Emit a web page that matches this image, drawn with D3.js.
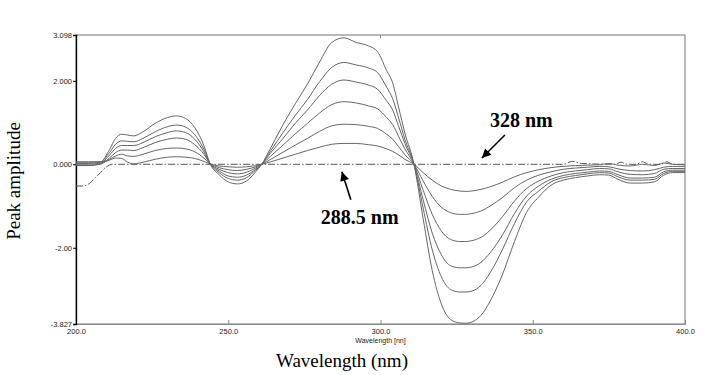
<!DOCTYPE html>
<html>
<head>
<meta charset="utf-8">
<script src="https://cdn.jsdelivr.net/npm/d3@7"></script>
<style>
  body { margin: 0; background: #fff; }
  svg { display: block; }
  .tick text { font-family: "Liberation Sans", Arial, sans-serif; font-size: 7.5px; fill: #222; }
</style>
</head>
<body>
<div class="chart"></div>
<script>
'use strict'

let width = 716;
let height = 375;
const margin = {left: 76, right: 31, top: 35, bottom: 51};

/* wavelengths (nm) shared by the six spectra */
const wavelengths = [200, 204, 208, 211, 213, 215, 217, 219, 222, 226, 230, 233, 236, 239, 242, 244,
    247, 250, 253, 256, 259, 261, 264, 268, 272, 276, 280, 284, 288, 292, 296, 299, 302, 304, 306, 308,
    311, 314, 317, 320, 323, 326, 328, 330, 333, 336, 340, 344, 348, 352, 356, 360, 364, 368, 372, 375,
    378, 382, 386, 390, 393, 396, 400];

/* peak amplitudes, smallest to largest */
const spectrum1 = [0.00, 0.00, 0.03, 0.10, 0.15, 0.14, 0.05, 0.01, 0.05, 0.12, 0.17, 0.18, 0.17, 0.14, 0.07, 0.01,
    -0.04, -0.06, -0.07, -0.06, -0.03, 0.00, 0.06, 0.15, 0.24, 0.33, 0.41, 0.48, 0.50, 0.50, 0.47, 0.44, 0.37, 0.31, 0.22, 0.12,
    0.00, -0.20, -0.38, -0.52, -0.60, -0.64, -0.65, -0.64, -0.60, -0.54, -0.43, -0.30, -0.20, -0.13, -0.08, -0.05, -0.03, -0.02, -0.01, 0.02,
    -0.02, -0.04, 0.00, -0.03, 0.03, 0.00, -0.01];
const spectrum2 = [0.06, 0.06, 0.06, 0.12, 0.20, 0.24, 0.20, 0.19, 0.24, 0.33, 0.38, 0.39, 0.37, 0.30, 0.15, 0.02,
    -0.08, -0.13, -0.15, -0.12, -0.06, 0.00, 0.12, 0.29, 0.46, 0.62, 0.79, 0.92, 0.96, 0.95, 0.91, 0.86, 0.72, 0.60, 0.42, 0.23,
    0.00, -0.40, -0.77, -1.03, -1.16, -1.20, -1.20, -1.18, -1.12, -1.00, -0.80, -0.56, -0.38, -0.26, -0.18, -0.12, -0.09, -0.07, -0.05, -0.06,
    -0.11, -0.15, -0.16, -0.13, -0.07, -0.05, -0.05];
const spectrum3 = [-0.03, -0.03, 0.00, 0.15, 0.28, 0.34, 0.34, 0.33, 0.40, 0.52, 0.60, 0.63, 0.60, 0.47, 0.24, 0.02,
    -0.12, -0.20, -0.23, -0.19, -0.09, 0.00, 0.20, 0.46, 0.73, 0.98, 1.23, 1.43, 1.50, 1.47, 1.40, 1.33, 1.12, 0.95, 0.66, 0.37,
    0.00, -0.62, -1.20, -1.60, -1.80, -1.85, -1.85, -1.83, -1.75, -1.58, -1.26, -0.88, -0.58, -0.40, -0.28, -0.20, -0.16, -0.13, -0.10, -0.11,
    -0.18, -0.24, -0.25, -0.22, -0.12, -0.10, -0.10];
const spectrum4 = [-0.03, -0.03, 0.02, 0.22, 0.38, 0.45, 0.45, 0.45, 0.52, 0.66, 0.76, 0.80, 0.76, 0.60, 0.30, 0.02,
    -0.16, -0.28, -0.31, -0.26, -0.12, 0.00, 0.28, 0.62, 0.98, 1.30, 1.65, 1.92, 2.02, 1.97, 1.90, 1.80, 1.52, 1.30, 0.90, 0.50,
    0.00, -0.85, -1.65, -2.17, -2.43, -2.48, -2.48, -2.46, -2.35, -2.12, -1.70, -1.18, -0.76, -0.52, -0.36, -0.27, -0.22, -0.19, -0.16, -0.17,
    -0.25, -0.33, -0.33, -0.31, -0.18, -0.14, -0.14];
const spectrum5 = [0.05, 0.05, 0.06, 0.28, 0.48, 0.56, 0.55, 0.54, 0.62, 0.78, 0.90, 0.94, 0.89, 0.71, 0.36, 0.02,
    -0.20, -0.34, -0.38, -0.32, -0.14, 0.00, 0.33, 0.76, 1.17, 1.55, 1.98, 2.32, 2.44, 2.38, 2.31, 2.20, 1.85, 1.57, 1.10, 0.60,
    0.00, -1.05, -2.05, -2.70, -3.00, -3.06, -3.06, -3.04, -2.90, -2.60, -2.05, -1.42, -0.90, -0.64, -0.42, -0.32, -0.27, -0.23, -0.20, -0.21,
    -0.30, -0.38, -0.38, -0.36, -0.22, -0.17, -0.17];
const spectrum6 = [0.02, 0.02, 0.05, 0.35, 0.62, 0.72, 0.70, 0.68, 0.78, 0.98, 1.12, 1.16, 1.10, 0.88, 0.45, 0.02,
    -0.25, -0.42, -0.47, -0.40, -0.18, 0.00, 0.40, 0.95, 1.45, 1.92, 2.45, 2.92, 3.03, 2.92, 2.84, 2.70, 2.25, 1.95, 1.35, 0.75,
    0.00, -1.30, -2.55, -3.35, -3.72, -3.80, -3.81, -3.78, -3.62, -3.28, -2.65, -1.85, -1.15, -0.78, -0.50, -0.38, -0.32, -0.28, -0.25, -0.26,
    -0.36, -0.45, -0.45, -0.42, -0.26, -0.20, -0.20];

/* blank (dash-dot) trace */
const blankWavelengths = [200, 202, 204, 206, 208, 210, 212, 300, 360, 363, 366, 377, 379, 381, 384, 386, 388, 392, 394, 396, 400];
const blankValues = [-0.52, -0.52, -0.48, -0.35, -0.20, -0.06, 0.00, 0.00, 0.00, 0.07, 0.02, 0.00, 0.05, 0.00, 0.00, 0.06, 0.00, 0.00, 0.06, 0.00, 0.00];

/* axis ticks */
const xTicks = [200, 250, 300, 350, 400];
const xTickLabels = ['200.0', '250.0', '300.0', '350.0', '400.0'];
const yTicks = [3.098, 2, 0, -2, -3.827];
const yTickLabels = ['3.098', '2.000', '0.000', '-2.00', '-3.827'];

/* annotations: label, wavelength of arrow tip, value of arrow tip */
const annotations = [
    ['328 nm', 333.3, 0.15],
    ['288.5 nm', 287.3, -0.18]
];


function drawChart () {
    const spectra = [spectrum1, spectrum2, spectrum3, spectrum4, spectrum5, spectrum6];

    const xScale = d3.scaleLinear()
                     .domain([200, 400])
                     .range([margin.left, width - margin.right]);
    const yScale = d3.scaleLinear()
                     .domain([-3.827, 3.098])
                     .range([height - margin.bottom, margin.top]);

    const svg = d3.select('.chart')
                  .append('svg')
                  .attr('width', width)
                  .attr('height', height);

    /* frame */
    svg.append('rect')
        .attr('x', margin.left)
        .attr('y', margin.top)
        .attr('width', width - margin.left - margin.right)
        .attr('height', height - margin.top - margin.bottom)
        .attr('fill', 'none')
        .attr('stroke', '#8a8a8a')
        .attr('stroke-width', 1.2);

    /* X AXIS */
    const xAxis = d3.axisBottom(xScale)
                    .tickValues(xTicks)
                    .tickFormat((d, i) => xTickLabels[i])
                    .tickSize(-4)
                    .tickPadding(5);
    const gx = svg.append('g')
        .attr('transform', 'translate(0,' + (height - margin.bottom) + ')')
        .call(xAxis);
    gx.select('.domain').attr('stroke', '#8a8a8a');
    gx.selectAll('.tick line').attr('stroke', '#8a8a8a');
    gx.selectAll('.tick')
        .filter(d => d === 200 || d === 400)
        .select('line').remove();

    svg.append('line')
        .attr('x1', xScale(300)).attr('x2', xScale(300))
        .attr('y1', margin.top).attr('y2', margin.top + 3)
        .attr('stroke', '#8a8a8a');

    /* Y AXIS */
    const yAxis = d3.axisLeft(yScale)
                    .tickValues(yTicks)
                    .tickFormat((d, i) => yTickLabels[i])
                    .tickSize(3)
                    .tickPadding(1);
    const gy = svg.append('g')
        .attr('transform', 'translate(' + margin.left + ',0)')
        .call(yAxis);
    gy.select('.domain').attr('stroke', '#000').attr('stroke-width', 1.3);

    svg.append('text')
        .attr('x', xScale(300))
        .attr('y', height - margin.bottom + 19)
        .attr('text-anchor', 'middle')
        .style('font-family', '"Liberation Sans", Arial, sans-serif')
        .style('font-size', '7px')
        .attr('fill', '#222')
        .text('Wavelength [nn]');

    /* titles */
    svg.append('text')
        .attr('transform', 'rotate(-90)')
        .attr('x', -181)
        .attr('y', 20)
        .attr('text-anchor', 'middle')
        .style('font-family', '"Liberation Serif", "Times New Roman", serif')
        .style('font-size', '19px')
        .text('Peak amplitude');

    svg.append('text')
        .attr('x', 342)
        .attr('y', 367)
        .attr('text-anchor', 'middle')
        .style('font-family', '"Liberation Serif", "Times New Roman", serif')
        .style('font-size', '19px')
        .text('Wavelength (nm)');

    /* spectra */
    const line = d3.line()
                   .x(d => xScale(d[0]))
                   .y(d => yScale(d[1]))
                   .curve(d3.curveMonotoneX);

    svg.append('path')
        .datum(blankWavelengths.map((w, i) => [w, blankValues[i]]))
        .attr('d', line)
        .attr('fill', 'none')
        .attr('stroke', '#555')
        .attr('stroke-width', 1)
        .attr('stroke-dasharray', '7,2,1.5,2');

    svg.selectAll('.spectrum')
        .data(spectra)
        .enter()
        .append('path')
        .attr('class', 'spectrum')
        .attr('d', s => line(wavelengths.map((w, i) => [w, s[i]])))
        .attr('fill', 'none')
        .attr('stroke', '#666')
        .attr('stroke-width', 1);

    /* annotations */
    svg.append('defs').append('marker')
        .attr('id', 'head')
        .attr('viewBox', '0 0 10 10')
        .attr('refX', 10).attr('refY', 5)
        .attr('markerWidth', 11).attr('markerHeight', 9)
        .attr('markerUnits', 'userSpaceOnUse')
        .attr('orient', 'auto')
        .append('path')
        .attr('d', 'M0,0 L10,5 L0,10 Z')
        .attr('fill', '#000');

    const a1 = annotations[0];
    svg.append('line')
        .attr('x1', xScale(a1[1]) + 23).attr('y1', yScale(a1[2]) - 23)
        .attr('x2', xScale(a1[1])).attr('y2', yScale(a1[2]))
        .attr('stroke', '#000').attr('stroke-width', 1.6)
        .attr('marker-end', 'url(#head)');
    svg.append('text')
        .attr('x', xScale(a1[1]) + 8).attr('y', yScale(a1[2]) - 31)
        .style('font-family', '"Liberation Serif", "Times New Roman", serif')
        .style('font-size', '20px').style('font-weight', 'bold')
        .text(a1[0]);

    const a2 = annotations[1];
    svg.append('line')
        .attr('x1', xScale(a2[1]) + 9).attr('y1', yScale(a2[2]) + 28)
        .attr('x2', xScale(a2[1])).attr('y2', yScale(a2[2]))
        .attr('stroke', '#000').attr('stroke-width', 1.6)
        .attr('marker-end', 'url(#head)');
    svg.append('text')
        .attr('x', xScale(a2[1]) - 21).attr('y', yScale(a2[2]) + 52)
        .style('font-family', '"Liberation Serif", "Times New Roman", serif')
        .style('font-size', '20px').style('font-weight', 'bold')
        .text(a2[0]);
}

document.addEventListener('DOMContentLoaded', function (e) {
    drawChart();
});
</script>
</body>
</html>
